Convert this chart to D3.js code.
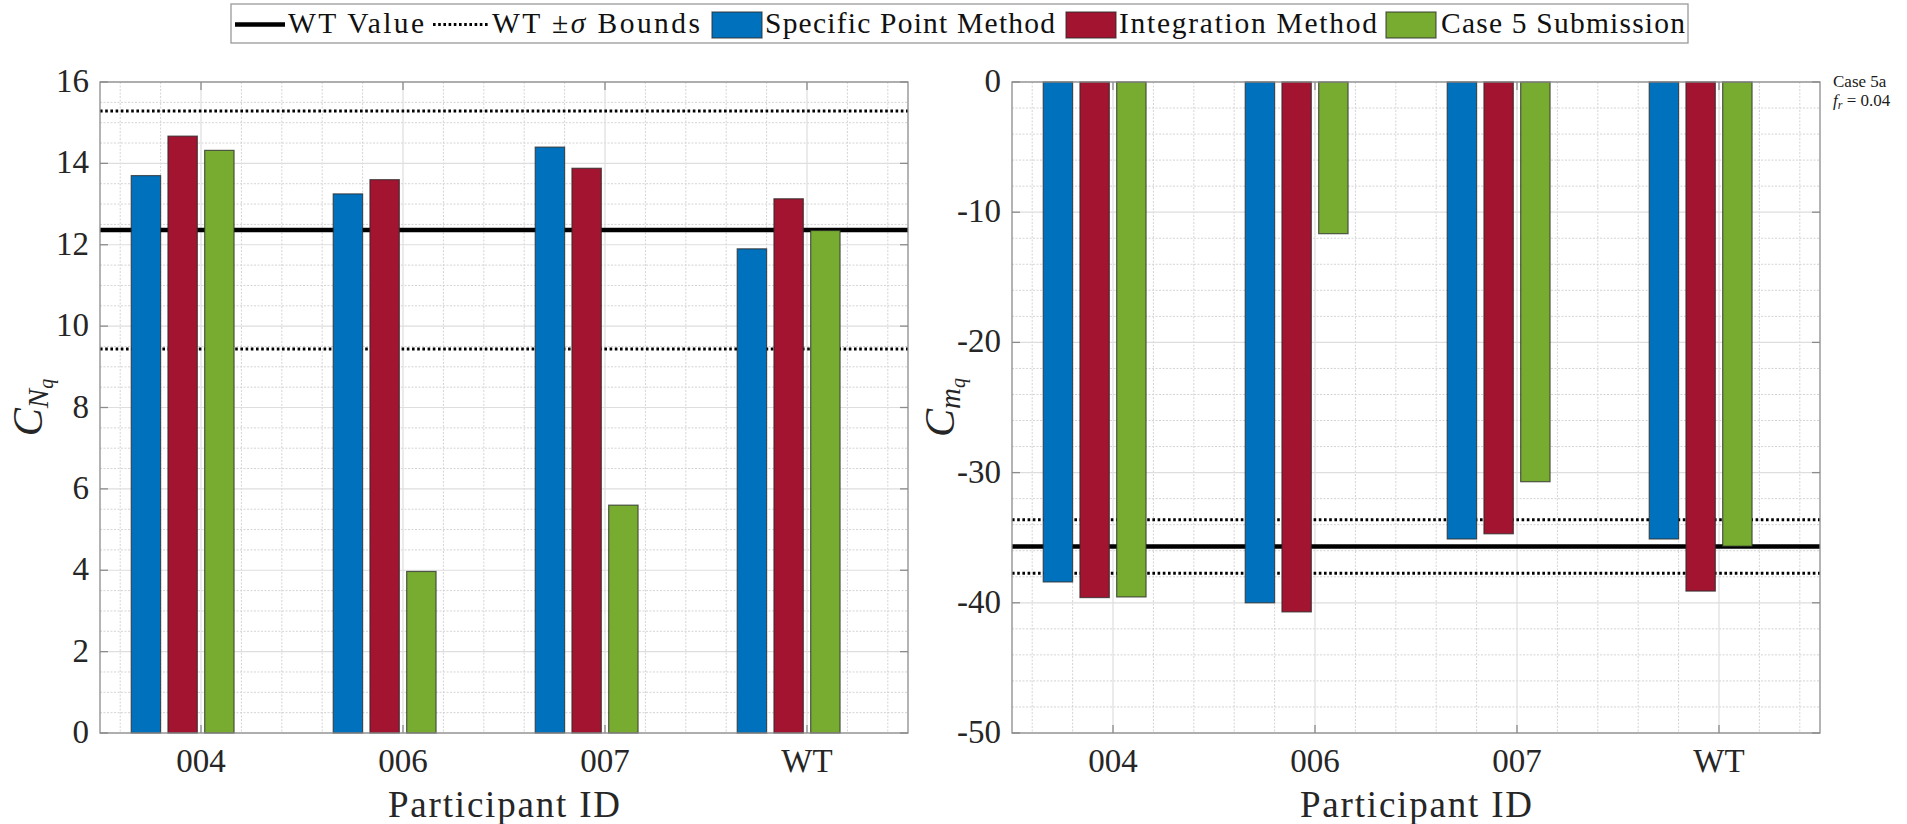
<!DOCTYPE html>
<html><head><meta charset="utf-8">
<script src="https://cdn.jsdelivr.net/npm/d3@7"></script>
<style>body{margin:0;background:#fff;} svg{display:block;} text{font-family:'Liberation Serif','DejaVu Serif','Times New Roman',serif;}</style>
</head><body><svg id="c" width="1907" height="824"></svg>
<script>
// ---------- data ----------
const categories = ["004", "006", "007", "WT"];
const seriesNames = ["Specific Point Method", "Integration Method", "Case 5 Submission"];
const seriesColors = ["#0072BD", "#A2142F", "#77AC30"];

const cnqSpecific    = [13.70, 13.25, 14.40, 11.90];
const cnqIntegration = [14.67, 13.60, 13.88, 13.13];
const cnqCase5       = [14.32, 3.97, 5.60, 12.35];
const cnqWTValue = 12.365;
const cnqWTSigma = 2.925;
const cnqTicks = [0, 2, 4, 6, 8, 10, 12, 14, 16];

const cmqSpecific    = [-38.40, -40.00, -35.10, -35.10];
const cmqIntegration = [-39.60, -40.70, -34.70, -39.10];
const cmqCase5       = [-39.55, -11.65, -30.70, -35.65];
const cmqWTValue = -35.68;
const cmqWTSigma = 2.06;
const cmqTicks = [-50, -40, -30, -20, -10, 0];

const annotationLines = ["Case 5a", "f_r = 0.04"];

// ---------- drawing ----------
const svg = d3.select("#c");
const FONT = "'Liberation Serif','DejaVu Serif','Times New Roman',serif";

function panel(cfg) {
  const g = svg.append("g");
  const x = d3.scaleLinear().domain([0.5, categories.length + 0.5]).range([cfg.left, cfg.right]);
  const y = d3.scaleLinear().domain(cfg.domain).range([cfg.bottom, cfg.top]);

  // minor grid
  const xMinor = d3.range(0.6, categories.length + 0.45, 0.2).filter(v => Math.abs(v - Math.round(v)) > 1e-6);
  const yMinor = d3.range(cfg.domain[0], cfg.domain[1] + 1e-9, cfg.minorStep).filter(v => !cfg.ticks.some(t => Math.abs(t - v) < 1e-6));
  g.selectAll(".mx").data(xMinor).enter().append("line")
    .attr("x1", d => x(d)).attr("x2", d => x(d)).attr("y1", cfg.top).attr("y2", cfg.bottom)
    .attr("stroke", "#d4d4d4").attr("stroke-width", 1).attr("stroke-dasharray", "2,1.5");
  g.selectAll(".my").data(yMinor).enter().append("line")
    .attr("y1", d => y(d)).attr("y2", d => y(d)).attr("x1", cfg.left).attr("x2", cfg.right)
    .attr("stroke", "#d4d4d4").attr("stroke-width", 1).attr("stroke-dasharray", "2,1.5");
  // major grid
  g.selectAll(".Mx").data(d3.range(1, categories.length + 1)).enter().append("line")
    .attr("x1", d => x(d)).attr("x2", d => x(d)).attr("y1", cfg.top).attr("y2", cfg.bottom)
    .attr("stroke", "#dedede").attr("stroke-width", 1.2);
  g.selectAll(".My").data(cfg.ticks).enter().append("line")
    .attr("y1", d => y(d)).attr("y2", d => y(d)).attr("x1", cfg.left).attr("x2", cfg.right)
    .attr("stroke", "#dedede").attr("stroke-width", 1.2);

  // WT lines
  [cfg.wt + cfg.sigma, cfg.wt - cfg.sigma].forEach(v => {
    g.append("line").attr("x1", cfg.left).attr("x2", cfg.right).attr("y1", y(v)).attr("y2", y(v))
      .attr("stroke", "#000").attr("stroke-width", 3).attr("stroke-dasharray", "2.6,2.6");
  });
  g.append("line").attr("x1", cfg.left).attr("x2", cfg.right).attr("y1", y(cfg.wt)).attr("y2", y(cfg.wt))
    .attr("stroke", "#000").attr("stroke-width", 4.5);

  // bars (grouped, 4 slots as in the original layout)
  const nSlots = 4;
  const groupWidth = Math.min(0.8, nSlots / (nSlots + 1.5));
  const slot = groupWidth / nSlots;
  const barW = slot * 0.8;
  cfg.series.forEach((vals, s) => {
    const off = (s + 1 - (nSlots + 1) / 2) * slot;
    g.selectAll(".b" + s).data(vals).enter().append("rect")
      .attr("x", (d, i) => x(i + 1 + off - barW / 2))
      .attr("width", x(barW) - x(0))
      .attr("y", d => Math.min(y(d), y(0)))
      .attr("height", d => Math.abs(y(d) - y(0)))
      .attr("fill", seriesColors[s])
      .attr("stroke", "#2b2b2b").attr("stroke-opacity", 0.75).attr("stroke-width", 1.2);
  });

  // axes box & ticks
  const axisCol = "#8c8c8c";
  g.append("rect").attr("x", cfg.left).attr("y", cfg.top).attr("width", cfg.right - cfg.left)
    .attr("height", cfg.bottom - cfg.top).attr("fill", "none").attr("stroke", axisCol).attr("stroke-width", 1.3);
  const tl = 8;
  categories.forEach((c, i) => {
    g.append("line").attr("x1", x(i + 1)).attr("x2", x(i + 1)).attr("y1", cfg.bottom).attr("y2", cfg.bottom - tl)
      .attr("stroke", axisCol).attr("stroke-width", 1.3);
    g.append("line").attr("x1", x(i + 1)).attr("x2", x(i + 1)).attr("y1", cfg.top).attr("y2", cfg.top + tl)
      .attr("stroke", axisCol).attr("stroke-width", 1.3);
  });
  cfg.ticks.forEach(t => {
    g.append("line").attr("x1", cfg.left).attr("x2", cfg.left + tl).attr("y1", y(t)).attr("y2", y(t))
      .attr("stroke", axisCol).attr("stroke-width", 1.3);
    g.append("line").attr("x1", cfg.right).attr("x2", cfg.right - tl).attr("y1", y(t)).attr("y2", y(t))
      .attr("stroke", axisCol).attr("stroke-width", 1.3);
  });

  // tick labels
  g.selectAll(".xl").data(categories).enter().append("text")
    .attr("font-family", FONT)
    .attr("x", (d, i) => x(i + 1)).attr("y", 772).attr("text-anchor", "middle")
    .attr("font-size", 33).attr("fill", "#262626").text(d => d);
  g.selectAll(".yl").data(cfg.ticks).enter().append("text")
    .attr("font-family", FONT)
    .attr("x", cfg.left - 11).attr("y", d => y(d) + 10).attr("text-anchor", "end")
    .attr("font-size", 33).attr("fill", "#262626").text(d => String(d));

  // x label
  g.append("text").attr("font-family", FONT)
    .attr("x", (cfg.left + cfg.right) / 2).attr("y", 817).attr("text-anchor", "middle")
    .attr("font-size", 37).attr("fill", "#262626")
    .attr("textLength", 232).attr("lengthAdjust", "spacing").text("Participant ID");

  // y label  C_{sub_q}
  const yl = g.append("text").attr("font-family", FONT)
    .attr("transform", `translate(${cfg.left - 58},${(cfg.top + cfg.bottom) / 2}) rotate(-90)`)
    .attr("text-anchor", "middle").attr("fill", "#262626").attr("font-style", "italic");
  yl.append("tspan").attr("font-size", 42).text("C");
  yl.append("tspan").attr("font-size", 29).attr("dy", 6).text(cfg.sub);
  yl.append("tspan").attr("font-size", 20).attr("dy", 5).text("q");
  return { x, y };
}

panel({
  left: 100, right: 908, top: 82, bottom: 733,
  domain: [0, 16], ticks: cnqTicks, minorStep: 0.5,
  series: [cnqSpecific, cnqIntegration, cnqCase5],
  wt: cnqWTValue, sigma: cnqWTSigma, sub: "N"
});
panel({
  left: 1012, right: 1820, top: 82, bottom: 733,
  domain: [-50, 0], ticks: cmqTicks, minorStep: 2,
  series: [cmqSpecific, cmqIntegration, cmqCase5],
  wt: cmqWTValue, sigma: cmqWTSigma, sub: "m"
});

// annotation
const ann = svg.append("g").attr("fill", "#1a1a1a").attr("font-size", 17).attr("font-family", FONT);
ann.append("text").attr("x", 1833).attr("y", 87).text(annotationLines[0]);
const a2 = ann.append("text").attr("x", 1833).attr("y", 106);
const parts = annotationLines[1].split(" = ");
a2.append("tspan").attr("font-style", "italic").text(parts[0].split("_")[0]);
a2.append("tspan").attr("font-style", "italic").attr("font-size", 12).attr("dy", 3).text(parts[0].split("_")[1]);
a2.append("tspan").attr("dy", -3).text(" = " + parts[1]);

// legend
const lg = svg.append("g").attr("font-family", FONT);
lg.append("rect").attr("x", 231).attr("y", 4).attr("width", 1457).attr("height", 39)
  .attr("fill", "#fff").attr("stroke", "#9a9a9a").attr("stroke-width", 1.3);
const LY = 24.5, TB = 33, LFS = 29.5;
lg.append("line").attr("x1", 235).attr("x2", 285).attr("y1", LY).attr("y2", LY)
  .attr("stroke", "#000").attr("stroke-width", 4.5);
lg.append("text").attr("x", 288).attr("y", TB).attr("font-size", LFS).attr("fill", "#111")
  .attr("textLength", 136).attr("lengthAdjust", "spacing").text("WT Value");
lg.append("line").attr("x1", 433).attr("x2", 489).attr("y1", LY).attr("y2", LY)
  .attr("stroke", "#000").attr("stroke-width", 3).attr("stroke-dasharray", "2.6,2.6");
const t2 = lg.append("text").attr("x", 492).attr("y", TB).attr("font-size", LFS).attr("fill", "#111")
  .attr("textLength", 208).attr("lengthAdjust", "spacing");
t2.append("tspan").text("WT ±");
t2.append("tspan").attr("font-style", "italic").text("σ");
t2.append("tspan").text(" Bounds");
const sw = [[712, 765, 290], [1066, 1119, 258], [1386, 1441, 244]];
seriesNames.forEach((n, i) => {
  lg.append("rect").attr("x", sw[i][0]).attr("y", 12).attr("width", 50).attr("height", 26)
    .attr("fill", seriesColors[i]).attr("stroke", "#2b2b2b").attr("stroke-opacity", 0.75).attr("stroke-width", 1.2);
  lg.append("text").attr("x", sw[i][1]).attr("y", TB).attr("font-size", LFS).attr("fill", "#111")
    .attr("textLength", sw[i][2]).attr("lengthAdjust", "spacing").text(n);
});
</script>
</body></html>
